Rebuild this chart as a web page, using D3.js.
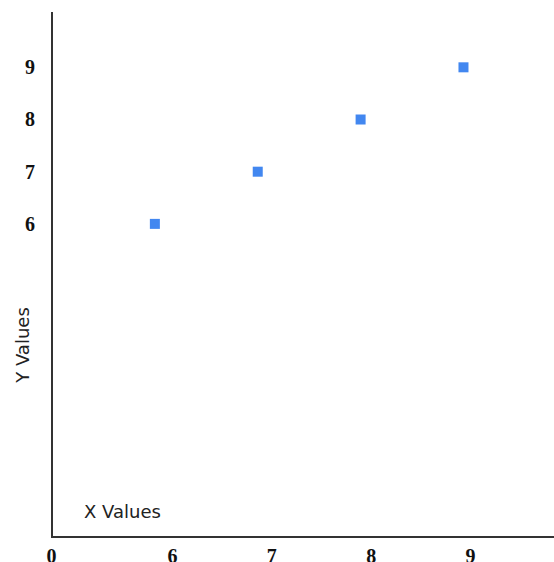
<!DOCTYPE html>
<html>
<head>
<meta charset="utf-8">
<script src="https://cdn.jsdelivr.net/npm/d3@7"></script>
<style>
  html, body { margin: 0; padding: 0; background: #fff; overflow: hidden; }
  svg { display: block; }
</style>
</head>
<body>
<svg id="chart" width="554" height="562"></svg>
<script>
// ---- data ----
const xValues = [6, 7, 8, 9];
const yValues = [6, 7, 8, 9];
const xTickValues = [5, 6, 7, 8, 9];
const xTickLabels = ["0", "6", "7", "8", "9"];
const yTickValues = [6, 7, 8, 9];
const yTickLabels = ["6", "7", "8", "9"];
const xTitle = "X Values";
const yTitle = "Y Values";

const W = 554, H = 562;
const originX = 52, originY = 537, topY = 12;

const svg = d3.select("#chart");

const x = d3.scaleLinear().domain([5, 9.88]).range([originX, W]);
const y = d3.scaleLinear().domain([0, 10.06]).range([originY, topY]);
// tick labels in the reference sit a little right of the marks
const xLabel = d3.scaleLinear().domain([5, 6, 9]).range([51, 172, 470]);

// points
svg.append("g").selectAll("rect")
  .data(xValues.map((v, i) => ({x: v, y: yValues[i]})))
  .join("rect")
  .attr("x", d => x(d.x) - 5)
  .attr("y", d => y(d.y) - 5)
  .attr("width", 10)
  .attr("height", 10)
  .attr("fill", "#4287f0");

// axes
const xAxis = d3.axisBottom(xLabel)
  .tickValues(xTickValues)
  .tickFormat((d, i) => xTickLabels[i])
  .tickSize(0)
  .tickPadding(12);
const gx = svg.append("g").attr("transform", `translate(0,${originY})`).call(xAxis);
gx.select(".domain").remove();
gx.selectAll("text")
  .attr("font-family", "'Liberation Serif', 'Times New Roman', serif")
  .attr("font-weight", "bold")
  .attr("font-size", 20)
  .attr("fill", "#111");

const yAxis = d3.axisLeft(y)
  .tickValues(yTickValues)
  .tickFormat((d, i) => yTickLabels[i])
  .tickSize(0)
  .tickPadding(17);
const gy = svg.append("g").attr("transform", `translate(${originX},0)`).call(yAxis);
gy.select(".domain").remove();
gy.selectAll("text")
  .attr("font-family", "'Liberation Serif', 'Times New Roman', serif")
  .attr("font-weight", "bold")
  .attr("font-size", 20)
  .attr("fill", "#111");

svg.append("line")
  .attr("x1", originX).attr("x2", originX)
  .attr("y1", topY).attr("y2", originY)
  .attr("stroke", "#333").attr("stroke-width", 2);
svg.append("line")
  .attr("x1", originX - 1).attr("x2", W)
  .attr("y1", originY).attr("y2", originY)
  .attr("stroke", "#333").attr("stroke-width", 2);

// titles
svg.append("text")
  .attr("x", 84).attr("y", 518)
  .attr("font-family", "'DejaVu Sans', Verdana, sans-serif")
  .attr("font-size", 18)
  .attr("fill", "#222")
  .text(xTitle);

svg.append("text")
  .attr("transform", "translate(29,345) rotate(-90)")
  .attr("text-anchor", "middle")
  .attr("font-family", "'DejaVu Sans', Verdana, sans-serif")
  .attr("font-size", 18)
  .attr("fill", "#222")
  .text(yTitle);
</script>
</body>
</html>
